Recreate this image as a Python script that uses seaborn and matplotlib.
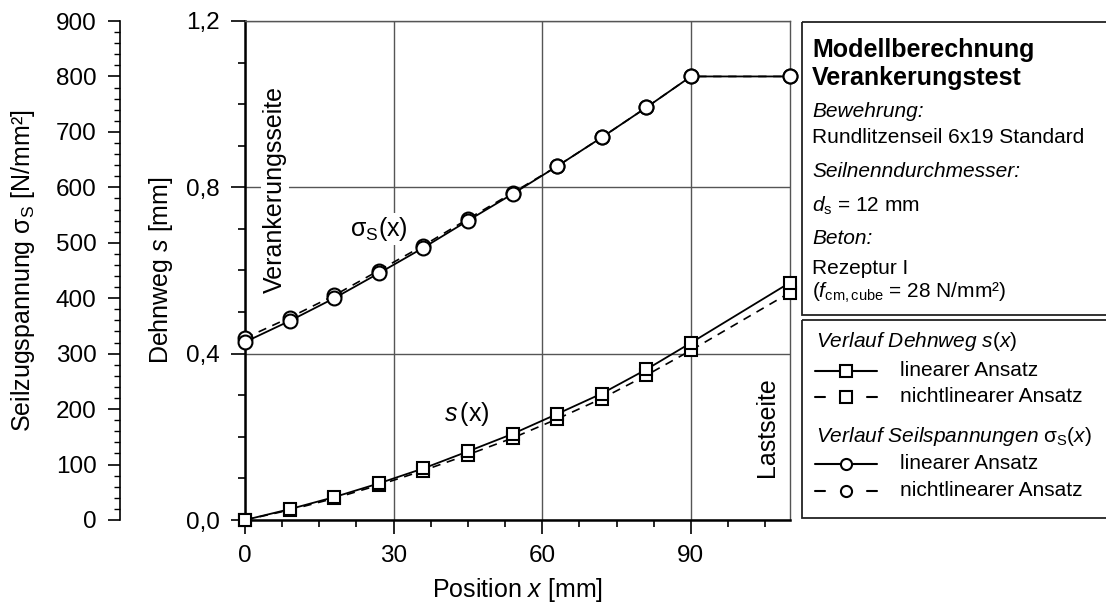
import matplotlib
matplotlib.use("Agg")
import matplotlib.pyplot as plt
import seaborn as sns
from matplotlib.ticker import MultipleLocator, FixedLocator, FixedFormatter
from matplotlib.patches import Rectangle

# Messpunkte entlang des Seils (Position x in mm)
x_pos = [0, 9, 18, 27, 36, 45, 54, 63, 72, 81, 90, 110]

# Dehnweg s(x) [mm]
s_linear = [0.000, 0.026, 0.055, 0.088, 0.124, 0.165, 0.207, 0.255, 0.304, 0.362, 0.426, 0.571]
s_nonlinear = [0.000, 0.024, 0.052, 0.084, 0.119, 0.157, 0.197, 0.243, 0.292, 0.348, 0.408, 0.547]

# Seilzugspannung sigma_S(x) [N/mm²]
sigma_linear = [321, 359, 400, 445, 491, 540, 588, 638, 690, 744, 800, 800]
sigma_nonlinear = [328, 365, 405, 450, 495, 543, 590, 638, 690, 744, 800, 800]

# Achsen
x_ticks = [0, 30, 60, 90]
s_ticks = [0.0, 0.4, 0.8, 1.2]
s_tick_labels = ['0,0', '0,4', '0,8', '1,2']
sigma_ticks = [0, 100, 200, 300, 400, 500, 600, 700, 800, 900]

sns.set_style("white")
plt.rcParams['font.family'] = ['Liberation Sans', 'DejaVu Sans']
plt.rcParams['mathtext.fontset'] = 'custom'
plt.rcParams['mathtext.rm'] = 'Liberation Sans'
plt.rcParams['mathtext.it'] = 'Liberation Sans:italic'
plt.rcParams['mathtext.bf'] = 'Liberation Sans:bold'
for key in ['text.color', 'axes.labelcolor', 'xtick.color', 'ytick.color']:
    plt.rcParams[key] = 'black'

W, H = 1106, 607
fig = plt.figure(figsize=(W / 100, H / 100), dpi=100)
ax = fig.add_axes([245 / W, 1 - 520 / H, 545 / W, 499 / H])

#Dehnweg-Kurven (Quadrate)
sns.lineplot(x=x_pos, y=s_nonlinear, ax=ax, color='black', lw=1.2, linestyle=(0, (5, 4)),
             marker='s', ms=9, mfc='white', mec='black', mew=1.5, zorder=4, clip_on=False)
sns.lineplot(x=x_pos, y=s_linear, ax=ax, color='black', lw=1.3,
             marker='s', ms=9, mfc='white', mec='black', mew=1.5, zorder=5, clip_on=False)

ax.set_xlim(0, 110)
ax.set_ylim(0, 1.2)
ax.xaxis.set_major_locator(FixedLocator(x_ticks))
ax.xaxis.set_minor_locator(MultipleLocator(7.5))
ax.yaxis.set_major_locator(FixedLocator(s_ticks))
ax.yaxis.set_major_formatter(FixedFormatter(s_tick_labels))
ax.yaxis.set_minor_locator(MultipleLocator(0.1))
ax.grid(True, which='major', color='#555555', lw=1.0)
ax.set_axisbelow(True)
ax.tick_params(which='major', direction='out', length=10, width=1.2, labelsize=17.5, pad=8,
               bottom=True, left=True)
ax.tick_params(which='minor', direction='out', length=5, width=1.2, bottom=True, left=True)
for side in ['left', 'bottom']:
    ax.spines[side].set_color('black')
    ax.spines[side].set_linewidth(1.8)
for side in ['top', 'right']:
    ax.spines[side].set_color('#555555')
    ax.spines[side].set_linewidth(1.0)

ax.set_xlabel('Position $x$ [mm]', fontsize=18)
ax.xaxis.set_label_coords(0.5, -0.112)
ax.set_ylabel('Dehnweg $s$ [mm]', fontsize=18)
ax.yaxis.set_label_coords(-0.128, 0.5)

#Spannungs-Kurven (Kreise) auf eigener Achse
ax2 = ax.twinx()
sns.lineplot(x=x_pos, y=sigma_nonlinear, ax=ax2, color='black', lw=1.2, linestyle=(0, (5, 4)),
             marker='o', ms=10, mfc='white', mec='black', mew=1.5, zorder=4, clip_on=False)
sns.lineplot(x=x_pos, y=sigma_linear, ax=ax2, color='black', lw=1.3,
             marker='o', ms=10, mfc='white', mec='black', mew=1.5, zorder=5, clip_on=False)
ax2.set_ylim(0, 900)
ax2.yaxis.set_major_locator(FixedLocator(sigma_ticks))
ax2.yaxis.set_minor_locator(MultipleLocator(20))
ax2.yaxis.tick_left()
ax2.yaxis.set_label_position('left')
ax2.spines['left'].set_position(('outward', 90))
ax2.spines['left'].set_visible(True)
ax2.spines['left'].set_color('black')
ax2.spines['left'].set_linewidth(1.2)
for side in ['top', 'right', 'bottom']:
    ax2.spines[side].set_visible(False)
ax2.tick_params(axis='y', which='major', direction='out', length=9, width=1.2, labelsize=17.5, pad=8)
ax2.tick_params(axis='y', which='minor', direction='out', length=4.5, width=1.0, left=True)
ax2.set_ylabel('Seilzugspannung $\\mathrm{σ}_\\mathrm{S}$ [N/mm²]', fontsize=18)
ax2.yaxis.set_label_coords(-0.382, 0.5)

#Beschriftungen im Diagramm
wbox = dict(facecolor='white', edgecolor='none', pad=1.5)
ax.text(6.0, 0.795, 'Verankerungsseite', rotation=90, ha='center', va='center', fontsize=18, bbox=wbox)
ax.text(105.4, 0.224, 'Lastseite', rotation=90, ha='center', va='center', fontsize=18, bbox=wbox)
ax.text(27.1, 0.70, '$\\mathrm{σ}_\\mathrm{S}\\mathrm{(x)}$', ha='center', va='center', fontsize=18, bbox=wbox)
ax.text(44.7, 0.255, '$s\\,\\mathrm{(x)}$', ha='center', va='center', fontsize=18, bbox=wbox)

#Textkasten + Legende (Pixelkoordinaten)
ov = fig.add_axes([0, 0, 1, 1], zorder=10)
ov.set_xlim(0, W)
ov.set_ylim(H, 0)
ov.axis('off')
ov.patch.set_visible(False)

ov.add_patch(Rectangle((802, 22), 320, 293, fill=False, edgecolor='#222222', lw=1.3))
ov.add_patch(Rectangle((802, 320), 320, 198, fill=False, edgecolor='#222222', lw=1.3))

tx = 812
ov.text(tx, 57, 'Modellberechnung', fontsize=18, fontweight='bold', va='baseline')
ov.text(tx, 85, 'Verankerungstest', fontsize=18, fontweight='bold', va='baseline')
ov.text(tx, 117, 'Bewehrung:', fontsize=15, style='italic', va='baseline')
ov.text(tx, 143, 'Rundlitzenseil 6x19 Standard', fontsize=15, va='baseline')
ov.text(tx, 177, 'Seilnenndurchmesser:', fontsize=15, style='italic', va='baseline')
ov.text(tx, 212, '$d_\\mathrm{s}$ = 12 mm', fontsize=15, va='baseline')
ov.text(tx, 244, 'Beton:', fontsize=15, style='italic', va='baseline')
ov.text(tx, 274, 'Rezeptur I', fontsize=15, va='baseline')
ov.text(tx, 298, '($f_\\mathrm{cm,cube}$ = 28 N/mm²)', fontsize=15, va='baseline')

lx = 816
ov.text(lx, 347, 'Verlauf Dehnweg s$\\mathrm{(}x\\mathrm{)}$', fontsize=15, style='italic', va='baseline')
ov.text(lx, 442, 'Verlauf Seilspannungen $\\mathrm{σ}_\\mathrm{S}\\mathrm{(}x\\mathrm{)}$', fontsize=15,
        style='italic', va='baseline')

entries = [(371, 's', True), (397, 's', False), (464, 'o', True), (491, 'o', False)]
labels = ['linearer Ansatz', 'nichtlinearer Ansatz', 'linearer Ansatz', 'nichtlinearer Ansatz']
for (yy, mk, solid), lab in zip(entries, labels):
    if solid:
        ov.plot([815, 877], [yy, yy], color='black', lw=1.5)
    else:
        ov.plot([815, 825], [yy, yy], color='black', lw=1.5)
        ov.plot([867, 877], [yy, yy], color='black', lw=1.5)
    ov.plot([846], [yy], marker=mk, ms=8, mfc='white', mec='black', mew=1.5)
    ov.text(900, yy + 5, lab, fontsize=15, va='baseline')

fig.savefig('out.png', dpi=100)
